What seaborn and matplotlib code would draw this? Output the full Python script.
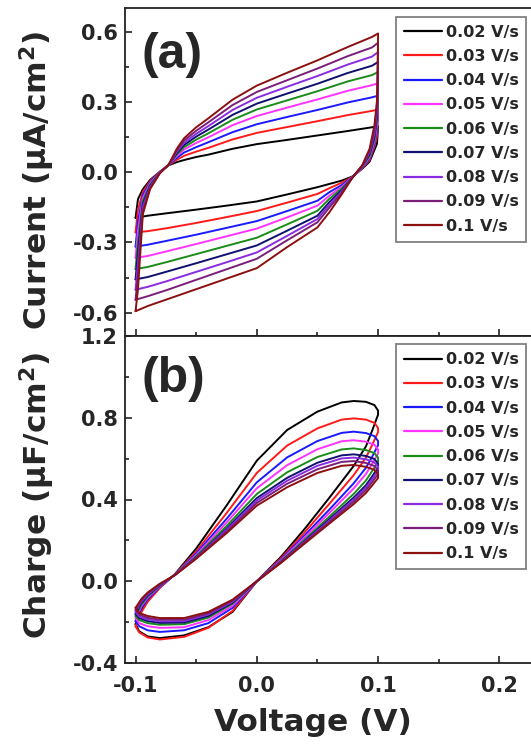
import numpy as np
import pandas as pd
import matplotlib
matplotlib.use("Agg")
import matplotlib.pyplot as plt
import seaborn as sns
from matplotlib.ticker import MultipleLocator, FormatStrFormatter

# ---------------- data ----------------
rates = ["0.02 V/s", "0.03 V/s", "0.04 V/s", "0.05 V/s", "0.06 V/s",
         "0.07 V/s", "0.08 V/s", "0.09 V/s", "0.1 V/s"]
colors = ["#000000", "#ff1a1a", "#1a1aff", "#ff33ff", "#1a8c1a",
          "#10106e", "#8a2be2", "#7b1e7b", "#8b1010"]

# panel (a): current, forward scan (-0.1 -> 0.1); each row = one voltage, columns = rates
va_fwd = [-0.1, -0.098, -0.094, -0.088, -0.08, -0.0725, -0.066, -0.06, -0.05,
          -0.04, -0.02, 0.0, 0.025, 0.05, 0.075, 0.095, 0.1]
ia_fwd = [
    [-0.195, -0.257, -0.318, -0.366, -0.414, -0.458, -0.502, -0.545, -0.594],
    [-0.115, -0.160, -0.210, -0.250, -0.300, -0.340, -0.390, -0.440, -0.500],
    [-0.073, -0.085, -0.098, -0.110, -0.122, -0.135, -0.148, -0.163, -0.180],
    [-0.033, -0.038, -0.043, -0.048, -0.053, -0.058, -0.063, -0.068, -0.072],
    [0.002, 0.001, 0.000, -0.001, -0.002, -0.003, -0.003, -0.004, -0.005],
    [0.030, 0.031, 0.032, 0.032, 0.033, 0.033, 0.033, 0.034, 0.034],
    [0.043, 0.053, 0.061, 0.069, 0.075, 0.081, 0.087, 0.093, 0.100],
    [0.052, 0.070, 0.084, 0.097, 0.107, 0.116, 0.125, 0.135, 0.145],
    [0.065, 0.088, 0.107, 0.125, 0.139, 0.152, 0.164, 0.177, 0.192],
    [0.075, 0.104, 0.128, 0.149, 0.166, 0.182, 0.197, 0.213, 0.230],
    [0.100, 0.140, 0.171, 0.201, 0.224, 0.245, 0.266, 0.287, 0.310],
    [0.120, 0.168, 0.205, 0.240, 0.268, 0.293, 0.318, 0.343, 0.370],
    [0.138, 0.193, 0.236, 0.276, 0.307, 0.336, 0.365, 0.393, 0.425],
    [0.157, 0.218, 0.266, 0.311, 0.346, 0.378, 0.411, 0.443, 0.478],
    [0.176, 0.244, 0.298, 0.348, 0.388, 0.424, 0.460, 0.496, 0.535],
    [0.192, 0.262, 0.320, 0.372, 0.415, 0.455, 0.494, 0.533, 0.578],
    [0.197, 0.268, 0.327, 0.380, 0.428, 0.471, 0.513, 0.553, 0.593],
]
# panel (a): current, reverse scan (0.1 -> -0.1)
va_rev = [0.1, 0.0995, 0.099, 0.097, 0.093, 0.087, 0.079, 0.07, 0.06, 0.05,
          0.025, 0.0, -0.025, -0.05, -0.075, -0.09, -0.1]
ia_rev = [
    [0.197, 0.268, 0.327, 0.380, 0.428, 0.471, 0.513, 0.553, 0.593],
    [0.150, 0.190, 0.220, 0.250, 0.270, 0.300, 0.320, 0.345, 0.370],
    [0.120, 0.150, 0.175, 0.195, 0.215, 0.235, 0.255, 0.280, 0.300],
    [0.095, 0.110, 0.120, 0.130, 0.140, 0.150, 0.165, 0.180, 0.200],
    [0.045, 0.052, 0.058, 0.064, 0.070, 0.077, 0.085, 0.092, 0.100],
    [0.015, 0.017, 0.019, 0.021, 0.023, 0.025, 0.027, 0.029, 0.030],
    [-0.018, -0.019, -0.020, -0.020, -0.021, -0.021, -0.022, -0.022, -0.022],
    [-0.036, -0.045, -0.055, -0.063, -0.070, -0.077, -0.083, -0.089, -0.095],
    [-0.050, -0.068, -0.085, -0.100, -0.113, -0.127, -0.138, -0.150, -0.170],
    [-0.064, -0.093, -0.122, -0.143, -0.165, -0.186, -0.200, -0.214, -0.236],
    [-0.095, -0.130, -0.166, -0.193, -0.223, -0.250, -0.272, -0.291, -0.320],
    [-0.125, -0.166, -0.209, -0.241, -0.280, -0.313, -0.343, -0.370, -0.410],
    [-0.143, -0.192, -0.238, -0.274, -0.315, -0.351, -0.385, -0.415, -0.455],
    [-0.160, -0.217, -0.267, -0.307, -0.350, -0.389, -0.426, -0.460, -0.500],
    [-0.176, -0.240, -0.294, -0.339, -0.385, -0.426, -0.467, -0.505, -0.545],
    [-0.186, -0.252, -0.310, -0.358, -0.405, -0.448, -0.490, -0.530, -0.572],
    [-0.195, -0.257, -0.318, -0.366, -0.414, -0.458, -0.502, -0.545, -0.594],
]

# panel (b): charge, forward scan
vb_fwd = [-0.1, -0.095, -0.09, -0.08, -0.0675, -0.05, -0.025, 0.0, 0.025,
          0.05, 0.07, 0.08, 0.09, 0.097, 0.1]
qb_fwd = [
    [-0.210, -0.220, -0.195, -0.180, -0.170, -0.160, -0.150, -0.140, -0.130],
    [-0.140, -0.150, -0.130, -0.120, -0.113, -0.105, -0.098, -0.090, -0.085],
    [-0.095, -0.100, -0.088, -0.080, -0.075, -0.070, -0.065, -0.060, -0.055],
    [-0.030, -0.033, -0.028, -0.025, -0.022, -0.020, -0.017, -0.015, -0.012],
    [0.035, 0.034, 0.033, 0.032, 0.032, 0.031, 0.031, 0.030, 0.030],
    [0.160, 0.146, 0.136, 0.129, 0.123, 0.118, 0.116, 0.113, 0.110],
    [0.370, 0.333, 0.305, 0.287, 0.270, 0.257, 0.251, 0.243, 0.235],
    [0.590, 0.530, 0.484, 0.455, 0.427, 0.407, 0.395, 0.383, 0.370],
    [0.740, 0.664, 0.606, 0.568, 0.533, 0.506, 0.492, 0.477, 0.460],
    [0.830, 0.748, 0.686, 0.646, 0.608, 0.580, 0.565, 0.548, 0.530],
    [0.875, 0.791, 0.726, 0.685, 0.645, 0.616, 0.601, 0.584, 0.565],
    [0.882, 0.797, 0.732, 0.690, 0.650, 0.621, 0.605, 0.588, 0.569],
    [0.878, 0.791, 0.725, 0.683, 0.642, 0.613, 0.597, 0.579, 0.560],
    [0.862, 0.775, 0.710, 0.668, 0.627, 0.598, 0.581, 0.564, 0.545],
    [0.835, 0.750, 0.686, 0.645, 0.605, 0.576, 0.561, 0.544, 0.525],
]
# panel (b): charge, reverse scan
vb_rev = [0.1, 0.095, 0.09, 0.08, 0.06, 0.04, 0.02, 0.0, -0.02, -0.04,
          -0.06, -0.08, -0.09, -0.097, -0.1]
qb_rev = [
    [0.815, 0.730, 0.666, 0.625, 0.585, 0.556, 0.541, 0.524, 0.505],
    [0.735, 0.665, 0.608, 0.573, 0.538, 0.512, 0.498, 0.484, 0.468],
    [0.660, 0.605, 0.555, 0.525, 0.493, 0.470, 0.458, 0.446, 0.432],
    [0.565, 0.520, 0.480, 0.455, 0.428, 0.410, 0.400, 0.390, 0.378],
    [0.410, 0.380, 0.352, 0.335, 0.317, 0.305, 0.298, 0.291, 0.283],
    [0.260, 0.243, 0.228, 0.218, 0.207, 0.200, 0.196, 0.192, 0.187],
    [0.120, 0.113, 0.107, 0.103, 0.099, 0.096, 0.094, 0.092, 0.090],
    [0.000, 0.000, 0.000, 0.000, 0.000, 0.000, 0.000, 0.000, 0.000],
    [-0.150, -0.145, -0.130, -0.120, -0.110, -0.105, -0.100, -0.095, -0.090],
    [-0.225, -0.228, -0.205, -0.190, -0.178, -0.170, -0.163, -0.157, -0.150],
    [-0.265, -0.272, -0.240, -0.225, -0.210, -0.202, -0.195, -0.188, -0.180],
    [-0.278, -0.285, -0.248, -0.228, -0.213, -0.204, -0.196, -0.188, -0.180],
    [-0.270, -0.275, -0.240, -0.220, -0.205, -0.195, -0.187, -0.179, -0.170],
    [-0.245, -0.250, -0.220, -0.205, -0.190, -0.180, -0.172, -0.163, -0.155],
    [-0.210, -0.220, -0.195, -0.180, -0.170, -0.160, -0.150, -0.140, -0.130],
]


def loop_frame(v_f, y_f, v_r, y_r, name):
    y_f = np.asarray(y_f)
    y_r = np.asarray(y_r)
    rows = []
    for j, r in enumerate(rates):
        xs = list(v_f) + list(v_r)
        ys = list(y_f[:, j]) + list(y_r[:, j])
        for k, (x, y) in enumerate(zip(xs, ys)):
            rows.append((r, k, x, y))
    return pd.DataFrame(rows, columns=["rate", "step", "V", name])


df_a = loop_frame(va_fwd, ia_fwd, va_rev, ia_rev, "I")
df_b = loop_frame(vb_fwd, qb_fwd, vb_rev, qb_rev, "Q")

# ---------------- style ----------------
sns.set_theme(style="white")
plt.rcParams["font.family"] = ["DejaVu Sans"]
plt.rcParams["font.weight"] = "bold"
plt.rcParams["axes.labelweight"] = "bold"
plt.rcParams["axes.unicode_minus"] = False
plt.rcParams["mathtext.fontset"] = "dejavusans"
plt.rcParams["mathtext.default"] = "bf"

W, H = 531, 749
fig = plt.figure(figsize=(W / 100, H / 100), dpi=100)
left = 125 / W
width = 410.7 / W
ax1 = fig.add_axes([left, 1 - 336 / H, width, 327.6 / H])
ax2 = fig.add_axes([left, 1 - 663 / H, width, 327.0 / H])

for ax, df, yname in [(ax1, df_a, "I"), (ax2, df_b, "Q")]:
    sns.lineplot(data=df, x="V", y=yname, hue="rate", hue_order=rates,
                 palette=colors, sort=False, estimator=None, lw=1.4,
                 ax=ax, legend=True)

for ax in (ax1, ax2):
    ax.set_xlim(-0.1087, 0.23)
    ax.xaxis.set_major_locator(MultipleLocator(0.1))
    ax.xaxis.set_minor_locator(MultipleLocator(0.05))
    ax.xaxis.set_major_formatter(FormatStrFormatter("%.1f"))
    ax.yaxis.set_major_formatter(FormatStrFormatter("%.1f"))
    ax.tick_params(which="both", direction="in", top=False, right=False,
                   bottom=True, left=True, width=1.2, color="#222222")
    ax.tick_params(which="major", length=5, labelsize=15)
    ax.tick_params(which="minor", length=3)
    ax.tick_params(axis="y", pad=5)
    ax.tick_params(axis="x", pad=9)
    for sp in ax.spines.values():
        sp.set_linewidth(1.3)
        sp.set_color("#222222")
    for lab in ax.get_xticklabels() + ax.get_yticklabels():
        lab.set_fontweight("bold")
    h, l = ax.get_legend_handles_labels()
    ax.legend(h, l, loc="upper left", bbox_to_anchor=(0.66, 0.975),
              borderaxespad=0, frameon=True, fancybox=False,
              edgecolor="#808080", framealpha=1, handlelength=2.4,
              handletextpad=0.2, labelspacing=0.58, borderpad=0.5,
              prop={"weight": "bold", "size": 11.5})
    ax.get_legend().get_frame().set_linewidth(1.3)
    for line in ax.get_legend().get_lines():
        line.set_linewidth(1.6)

ax1.set_ylim(-0.7, 0.7)
ax1.yaxis.set_major_locator(MultipleLocator(0.3))
ax1.yaxis.set_minor_locator(MultipleLocator(0.15))
ax1.tick_params(axis="x", labelbottom=False)
ax1.set_xlabel("")
ax1.set_ylabel("Current (μA/cm$^{2}$)", fontsize=22.5, fontweight="bold")
ax1.yaxis.set_label_coords(-0.165, 0.476)

ax2.set_ylim(-0.4, 1.2)
ax2.yaxis.set_major_locator(MultipleLocator(0.4))
ax2.yaxis.set_minor_locator(MultipleLocator(0.2))
ax2.set_ylabel("Charge (μF/cm$^{2}$)", fontsize=22.5, fontweight="bold")
ax2.yaxis.set_label_coords(-0.165, 0.514)
ax2.set_xlabel("Voltage (V)", fontsize=22.5, fontweight="bold")
ax2.xaxis.set_label_coords(0.4565, -0.138)

ax1.text(0.041, 0.859, "(a)", transform=ax1.transAxes, ha="left",
         va="center", fontsize=36, fontweight="bold",
         family=["Liberation Sans", "DejaVu Sans"])
ax2.text(0.041, 0.87, "(b)", transform=ax2.transAxes, ha="left",
         va="center", fontsize=36, fontweight="bold",
         family=["Liberation Sans", "DejaVu Sans"])

fig.savefig("out.png", dpi=100)
